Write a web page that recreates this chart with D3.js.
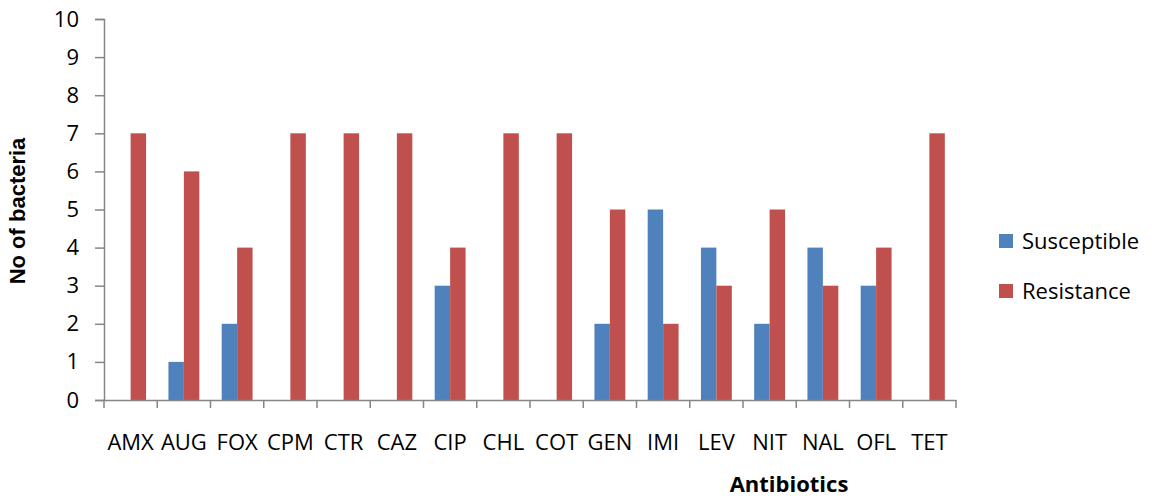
<!DOCTYPE html>
<html>
<head>
<meta charset="utf-8">
<script src="https://cdn.jsdelivr.net/npm/d3@7"></script>
<style>
  html, body { margin: 0; padding: 0; background: #fff; overflow: hidden; }
  svg { display: block; }
  svg text { font-family: "Open Sans", "Noto Sans", sans-serif; }
  svg text.y-title { font-family: "Liberation Sans", Arial, sans-serif; }
</style>
</head>
<body>
<div id="chart"></div>
<script>
const categories = ["AMX", "AUG", "FOX", "CPM", "CTR", "CAZ", "CIP", "CHL", "COT", "GEN", "IMI", "LEV", "NIT", "NAL", "OFL", "TET"];
const susceptible = [0, 1, 2, 0, 0, 0, 3, 0, 0, 2, 5, 4, 2, 4, 3, 0];
const resistance = [7, 6, 4, 7, 7, 7, 4, 7, 7, 5, 2, 3, 5, 3, 4, 7];
const seriesNames = ["Susceptible", "Resistance"];
const yTicks = [0, 1, 2, 3, 4, 5, 6, 7, 8, 9, 10];

const width = 1151, height = 498;
const margin = { top: 19, right: 195, bottom: 98, left: 104 };
const innerWidth = width - margin.left - margin.right;
const innerHeight = height - margin.top - margin.bottom;
const colors = { Susceptible: "#4F81BD", Resistance: "#C0504D" };
const axisColor = "#868686";
const fontSize = "22px";

const svg = d3.select("#chart").append("svg")
    .attr("width", width)
    .attr("height", height);

const g = svg.append("g")
    .attr("transform", `translate(${margin.left},${margin.top})`);

const x = d3.scaleBand()
    .domain(categories)
    .range([0, innerWidth])
    .paddingInner(0.42)
    .paddingOuter(0.21);

const xSeries = d3.scaleBand()
    .domain(seriesNames)
    .range([0, x.bandwidth()]);

const y = d3.scaleLinear()
    .domain([0, 10])
    .range([innerHeight, 0]);

const data = categories.map((c, i) => ({
    category: c,
    values: [
        { key: "Susceptible", value: susceptible[i] },
        { key: "Resistance", value: resistance[i] }
    ]
}));

// Bars
g.selectAll("g.group")
    .data(data)
    .enter()
    .append("g")
    .attr("class", "group")
    .attr("transform", d => `translate(${x(d.category)},0)`)
    .selectAll("rect")
    .data(d => d.values.filter(v => v.value > 0))
    .enter()
    .append("rect")
    .attr("x", d => xSeries(d.key))
    .attr("y", d => y(d.value))
    .attr("width", xSeries.bandwidth())
    .attr("height", d => innerHeight - y(d.value))
    .attr("fill", d => colors[d.key]);

// Y axis
const yAxis = g.append("g")
    .call(d3.axisLeft(y).tickValues(yTicks).tickSize(9).tickPadding(16));
yAxis.attr("font-family", null);
yAxis.selectAll("text")
    .attr("fill", "#000")
    .attr("font-size", fontSize);

// X axis, ticks at category boundaries
const xAxis = g.append("g")
    .attr("transform", `translate(0,${innerHeight})`)
    .call(d3.axisBottom(x).tickSize(0).tickPadding(34));
xAxis.attr("font-family", null);
xAxis.selectAll("text")
    .attr("fill", "#000")
    .attr("font-size", fontSize);

const boundaries = d3.range(categories.length + 1).map(i => x.range()[1] * i / categories.length);
g.append("g")
    .selectAll("line")
    .data(boundaries)
    .enter()
    .append("line")
    .attr("x1", d => d)
    .attr("x2", d => d)
    .attr("y1", innerHeight)
    .attr("y2", innerHeight + 8)
    .attr("stroke", axisColor)
    .attr("stroke-width", 1.5);

g.selectAll(".domain").attr("stroke", axisColor).attr("stroke-width", 1.5);
g.selectAll(".tick line").attr("stroke", axisColor).attr("stroke-width", 1.5);

// Axis titles
svg.append("text")
    .attr("x", 789)
    .attr("y", 492)
    .attr("text-anchor", "middle")
    .attr("font-size", fontSize)
    .attr("font-weight", "bold")
    .text("Antibiotics");

svg.append("text")
    .attr("class", "y-title")
    .attr("transform", `translate(25,211) rotate(-90)`)
    .attr("text-anchor", "middle")
    .attr("font-size", "22px")
    .attr("font-weight", "bold")
    .text("No of bacteria");

// Legend
const legend = svg.append("g")
    .attr("transform", "translate(999,234)");
seriesNames.forEach((name, i) => {
    const row = legend.append("g").attr("transform", `translate(0,${i * 50})`);
    row.append("rect")
        .attr("width", 14)
        .attr("height", 14)
        .attr("fill", colors[name]);
    row.append("text")
        .attr("x", 23)
        .attr("y", 7)
        .attr("dy", "0.35em")
        .attr("font-size", fontSize)
        .text(name);
});
</script>
</body>
</html>
